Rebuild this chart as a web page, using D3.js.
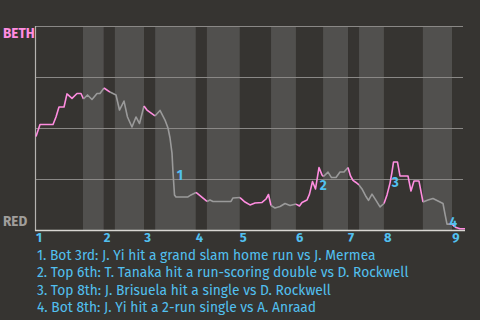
<!DOCTYPE html>
<html><head><meta charset="utf-8">
<script src="https://cdn.jsdelivr.net/npm/d3@7"></script>
<style>html,body{margin:0;padding:0;background:#363431;} svg{display:block}</style>
</head><body><svg id="c" width="480" height="320"></svg>
<script>
const teamTop = "BETH";
const teamBottom = "RED";
const totalProgress = 117;
const halfInningStarts = [0, 12.8, 18.5, 21.5, 29.5, 32.5, 43.6, 46.6, 55.6, 64.1, 70.9, 78.3, 85.1, 88.1, 94.9, 105.5, 113.5];
const inningLabels = ["1","2","3","4","5","6","7","8","9"];
const probTicks = [0.25, 0.5, 0.75, 1];
const progress = [0,1.09,4.64,5.45,6.27,7.64,8.45,9.82,11.18,12.27,12.95,14.05,15.27,16.64,17.45,18.55,20.18,21.82,22.77,24.0,24.95,26.18,27.27,28.23,29.45,30.27,32.45,33.82,35.18,36.0,36.55,37.09,37.36,37.77,38.18,41.45,42.27,43.64,44.73,46.64,47.45,48.27,53.18,53.73,55.64,57.0,58.36,59.73,61.64,62.73,63.41,64.09,65.18,66.55,67.91,69.27,70.91,71.86,72.55,73.91,74.59,75.41,76.23,77.18,78.0,78.41,79.64,80.59,81.82,82.91,84.0,85.09,85.77,86.45,87.27,88.09,88.91,90.0,90.68,91.64,92.73,93.82,94.91,95.73,96.55,97.09,97.5,98.59,99.27,101.45,102.27,103.09,104.45,105.55,106.91,108.27,109.64,111.0,111.55,112.09,113.45,114.55,115.64,117];
const bethWinProb = [0.458,0.517,0.517,0.554,0.603,0.603,0.667,0.645,0.669,0.669,0.642,0.662,0.640,0.669,0.669,0.696,0.676,0.662,0.588,0.632,0.554,0.505,0.554,0.522,0.608,0.588,0.559,0.586,0.539,0.500,0.451,0.377,0.284,0.172,0.162,0.162,0.172,0.184,0.169,0.140,0.147,0.140,0.140,0.157,0.159,0.137,0.123,0.132,0.135,0.152,0.174,0.120,0.108,0.115,0.130,0.120,0.127,0.118,0.135,0.147,0.176,0.238,0.201,0.306,0.270,0.262,0.284,0.257,0.257,0.284,0.284,0.306,0.265,0.243,0.233,0.221,0.201,0.164,0.145,0.176,0.145,0.113,0.130,0.172,0.230,0.284,0.333,0.333,0.265,0.265,0.191,0.240,0.240,0.137,0.147,0.154,0.142,0.130,0.078,0.029,0.029,0.012,0.006,0.006];
const eventIds = ["1","2","3","4"];
const eventProgress = [38.4, 77.4, 97.0, 112.8];
const eventLabelProb = [0.245, 0.194, 0.211, 0.016];
const eventNotes = [
  "1. Bot 3rd: J. Yi hit a grand slam home run vs J. Mermea",
  "2. Top 6th: T. Tanaka hit a run-scoring double vs D. Rockwell",
  "3. Top 8th: J. Brisuela hit a single vs D. Rockwell",
  "4. Bot 8th: J. Yi hit a 2-run single vs A. Anraad"
];

const FONT = "'Fira Sans', Lato, 'Open Sans', sans-serif";
const colTop = "#ff8de0", colBottom = "#9a9a9a", blue = "#52c0f0";
const bgDark = "#363431", bgLight = "#51504e";

const svg = d3.select("#c");
const x = d3.scaleLinear().domain([0, totalProgress]).range([36, 465]);
const y = d3.scaleLinear().domain([0, 1]).range([230, 26]);

svg.append("rect").attr("width",480).attr("height",320).attr("fill",bgDark);

// half-inning bands
const bandEnds = halfInningStarts.slice(1).concat([totalProgress]);
svg.append("g").selectAll("rect").data(halfInningStarts).join("rect")
  .attr("x", d => x(d))
  .attr("width", (d,i) => x(bandEnds[i]) - x(d))
  .attr("y", y(1)).attr("height", y(0) - y(1))
  .attr("fill", (d,i) => i % 2 === 0 ? bgDark : bgLight);

// gridlines
svg.append("g").selectAll("line").data(probTicks).join("line")
  .attr("x1", x(0)).attr("x2", 463)
  .attr("y1", d => Math.round(y(d)) + 0.5).attr("y2", d => Math.round(y(d)) + 0.5)
  .attr("stroke", "#8a8886").attr("stroke-width", 1);

// axes lines
svg.append("line").attr("x1", x(0)-0.5).attr("x2", x(0)-0.5).attr("y1", y(1)).attr("y2", y(0)+1)
  .attr("stroke","#b5b3b0").attr("stroke-width",1.2);
svg.append("line").attr("x1", x(0)-1).attr("x2", x(totalProgress)).attr("y1", y(0)+0.5).attr("y2", y(0)+0.5)
  .attr("stroke","#d8d6d2").attr("stroke-width",1.5);

// win probability line, coloured by half-inning
const pts = progress.map((p,i) => ({u:p, v:bethWinProb[i]}));
function halfOf(u){ let h = 0; halfInningStarts.forEach((s,i)=>{ if (u > s + 0.3) h = i; }); return h; }
const segs = [];
for (let i = 1; i < pts.length; i++) {
  const h = halfOf(pts[i].u);
  if (segs.length && segs[segs.length-1].h === h) segs[segs.length-1].p.push(pts[i]);
  else segs.push({h, p:[pts[i-1], pts[i]]});
}
const line = d3.line().x(d => x(d.u)).y(d => y(d.v));
svg.append("g").selectAll("path").data(segs).join("path")
  .attr("d", d => line(d.p))
  .attr("fill","none")
  .attr("stroke", d => d.h % 2 === 0 ? colTop : colBottom)
  .attr("stroke-width", 1.6).attr("stroke-linejoin","round");

// team labels
svg.append("text").attr("x",3).attr("y",38).text(teamTop)
  .attr("font-family",FONT).attr("font-weight","bold").attr("font-size",13.5).attr("fill",colTop);
svg.append("text").attr("x",3).attr("y",226).text(teamBottom)
  .attr("font-family",FONT).attr("font-weight","bold").attr("font-size",13.5).attr("fill","#a09e9b");

// inning labels
const topStarts = halfInningStarts.filter((d,i) => i % 2 === 0);
svg.append("g").selectAll("text").data(inningLabels).join("text")
  .attr("x", (d,i) => x(topStarts[i])).attr("y", 242)
  .text(d => d)
  .attr("font-family",FONT).attr("font-weight","bold").attr("font-size",13).attr("fill",blue);

// event markers
svg.append("g").selectAll("text").data(eventIds).join("text")
  .attr("x", (d,i) => x(eventProgress[i])).attr("y", (d,i) => y(eventLabelProb[i]))
  .text(d => d)
  .attr("font-family",FONT).attr("font-weight","bold").attr("font-size",13.5).attr("fill",blue);

// notes
svg.append("g").selectAll("text").data(eventNotes).join("text")
  .attr("x", 37).attr("y", (d,i) => 259.5 + i*17.5)
  .text(d => d)
  .attr("font-family",FONT).attr("font-size",13.8).attr("fill",blue);
</script></body></html>
